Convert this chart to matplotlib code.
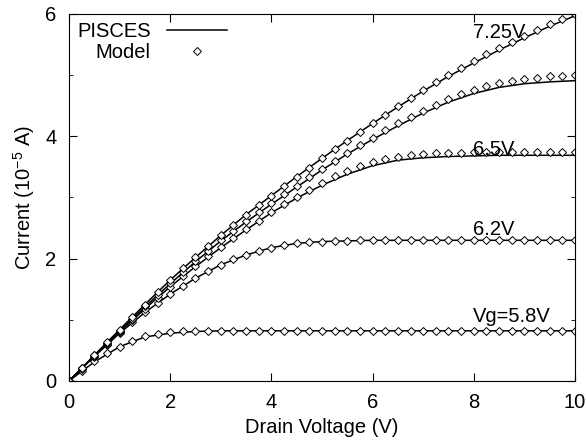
import matplotlib
matplotlib.use("Agg")
import matplotlib.pyplot as plt
from matplotlib.ticker import MultipleLocator

plt.rcParams['font.family'] = ['Liberation Sans', 'DejaVu Sans']
plt.rcParams['mathtext.default'] = 'regular'

# drain voltage grids
vd_line = [0.0, 0.5, 1.0, 1.5, 2.0, 2.5, 3.0, 3.5, 4.0, 4.5, 5.0,
           5.5, 6.0, 6.5, 7.0, 7.5, 8.0, 8.5, 9.0, 9.5, 10.0]
vd_model = [0.0, 0.25, 0.5, 0.75, 1.0, 1.25, 1.5, 1.75, 2.0, 2.25, 2.5,
            2.75, 3.0, 3.25, 3.5, 3.75, 4.0, 4.25, 4.5, 4.75, 5.0,
            5.25, 5.5, 5.75, 6.0, 6.25, 6.5, 6.75, 7.0, 7.25, 7.5,
            7.75, 8.0, 8.25, 8.5, 8.75, 9.0, 9.25, 9.5, 9.75, 10.0]

# PISCES simulation (1e-5 A)
pisces_58 = [0, 0.31, 0.56, 0.72, 0.78, 0.81, 0.82, 0.82, 0.82, 0.82, 0.82,
             0.82, 0.82, 0.82, 0.82, 0.82, 0.82, 0.82, 0.82, 0.82, 0.82]
pisces_62 = [0, 0.40, 0.78, 1.12, 1.42, 1.68, 1.90, 2.06, 2.18, 2.25, 2.28,
             2.29, 2.30, 2.30, 2.30, 2.30, 2.30, 2.30, 2.30, 2.30, 2.30]
pisces_65 = [0, 0.41, 0.80, 1.18, 1.54, 1.87, 2.18, 2.47, 2.75, 2.99, 3.20,
             3.38, 3.52, 3.61, 3.65, 3.67, 3.68, 3.69, 3.69, 3.69, 3.69]
pisces_68 = [0, 0.41, 0.82, 1.21, 1.59, 1.95, 2.29, 2.60, 2.89, 3.17, 3.45,
             3.71, 3.95, 4.17, 4.38, 4.56, 4.70, 4.80, 4.86, 4.89, 4.91]
pisces_725 = [0, 0.42, 0.84, 1.25, 1.65, 2.02, 2.38, 2.72, 3.03, 3.34, 3.64,
              3.93, 4.21, 4.48, 4.74, 4.98, 5.20, 5.41, 5.61, 5.80, 5.97]

# model values (1e-5 A)
model_58 = [0, 0.17, 0.32, 0.45, 0.56, 0.66, 0.73, 0.77, 0.80, 0.81, 0.82,
            0.82, 0.82, 0.82, 0.82, 0.82, 0.82, 0.82, 0.82, 0.82, 0.82,
            0.82, 0.82, 0.82, 0.82, 0.82, 0.82, 0.82, 0.82, 0.82, 0.82,
            0.82, 0.82, 0.82, 0.82, 0.82, 0.82, 0.82, 0.82, 0.82, 0.82]
model_62 = [0, 0.20, 0.40, 0.59, 0.78, 0.96, 1.13, 1.28, 1.42, 1.56, 1.68,
            1.80, 1.90, 1.99, 2.06, 2.12, 2.18, 2.22, 2.25, 2.27, 2.28,
            2.29, 2.29, 2.30, 2.30, 2.30, 2.30, 2.30, 2.30, 2.30, 2.30,
            2.30, 2.30, 2.30, 2.30, 2.30, 2.30, 2.30, 2.30, 2.30, 2.30]
model_65 = [0, 0.21, 0.41, 0.61, 0.80, 0.99, 1.18, 1.36, 1.54, 1.71, 1.88,
            2.04, 2.19, 2.34, 2.48, 2.62, 2.76, 2.89, 3.01, 3.13, 3.24,
            3.35, 3.44, 3.52, 3.58, 3.63, 3.67, 3.69, 3.71, 3.72, 3.73,
            3.73, 3.74, 3.74, 3.74, 3.75, 3.75, 3.75, 3.75, 3.75, 3.75]
model_68 = [0, 0.21, 0.42, 0.62, 0.82, 1.02, 1.22, 1.41, 1.60, 1.78, 1.96,
            2.13, 2.30, 2.46, 2.62, 2.77, 2.91, 3.05, 3.19, 3.33, 3.47,
            3.60, 3.73, 3.86, 3.98, 4.10, 4.21, 4.32, 4.42, 4.52, 4.61,
            4.69, 4.76, 4.82, 4.87, 4.91, 4.94, 4.96, 4.98, 4.99, 5.00]
model_725 = [0, 0.21, 0.42, 0.63, 0.84, 1.05, 1.25, 1.45, 1.65, 1.84, 2.02,
             2.20, 2.38, 2.55, 2.72, 2.88, 3.03, 3.19, 3.34, 3.49, 3.64,
             3.79, 3.93, 4.07, 4.21, 4.35, 4.49, 4.62, 4.75, 4.88, 5.00,
             5.12, 5.23, 5.34, 5.44, 5.54, 5.64, 5.74, 5.83, 5.92, 6.00]

pisces = [pisces_58, pisces_62, pisces_65, pisces_68, pisces_725]
model = [model_58, model_62, model_65, model_68, model_725]

curve_labels = ["Vg=5.8V", "6.2V", "6.5V", "7.25V"]
label_x = [7.98, 7.98, 7.98, 7.98]
label_y = [1.05, 2.48, 3.78, 5.69]

fig = plt.figure(figsize=(5.86, 4.47), dpi=100)
ax = fig.add_axes([0.1177, 0.1477, 0.8635, 0.821])

for i in range(len(pisces)):
    ax.plot(vd_line, pisces[i], color='black', lw=1.1,
            label="PISCES" if i == 0 else None)
    ax.plot(vd_model, model[i], ls='none', marker='D', ms=4.0,
            mfc='white', mec='black', mew=0.7,
            label="Model" if i == 0 else None)

for t, x, y in zip(curve_labels, label_x, label_y):
    ax.text(x, y, t, fontsize=14.5, va='center', ha='left')

ax.set_xlim(0, 10)
ax.set_ylim(0, 6)
ax.xaxis.set_major_locator(MultipleLocator(2))
ax.yaxis.set_major_locator(MultipleLocator(2))
ax.yaxis.set_minor_locator(MultipleLocator(1))
ax.tick_params(which='both', direction='in', top=True, right=True,
               labelsize=14.5)
ax.tick_params(axis='x', which='major', length=6, pad=9)
ax.tick_params(axis='y', which='major', length=6, pad=9)
ax.tick_params(which='minor', length=3)

ax.set_xlabel("Drain Voltage (V)", fontsize=14.5, labelpad=4)
ax.set_ylabel("Current (10$^{-5}$ A)", fontsize=14.5, labelpad=6)

ax.legend(loc='upper left', frameon=False, markerfirst=False,
          fontsize=14.5, handlelength=3.0, handletextpad=0.8,
          labelspacing=0.1, borderaxespad=0.2, borderpad=0.2)

fig.savefig("out.png", dpi=100)
